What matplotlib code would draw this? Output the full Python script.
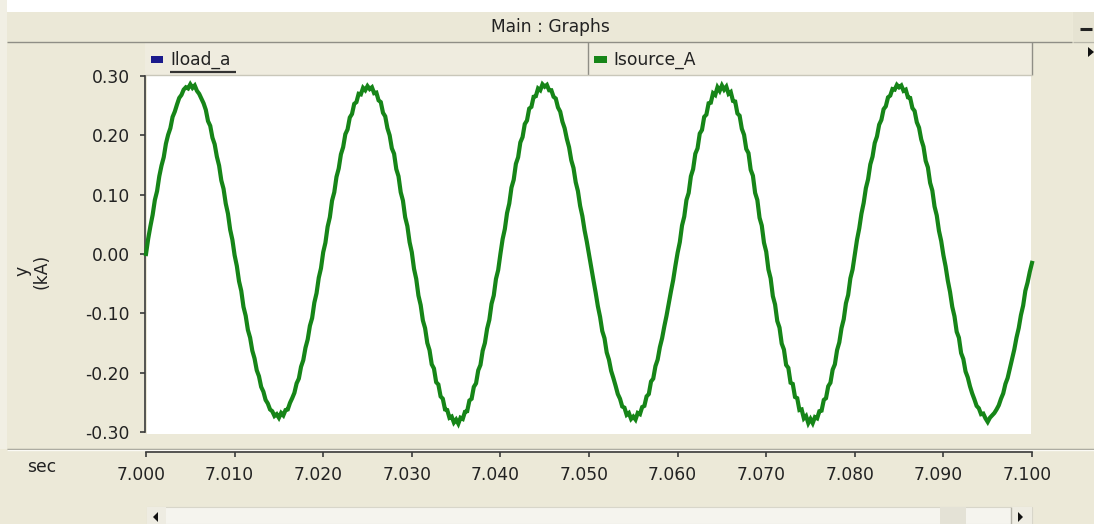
import numpy as np
import matplotlib
matplotlib.use("Agg")
import matplotlib.pyplot as plt
from matplotlib.patches import Rectangle, Polygon
import matplotlib.transforms as mtransforms

# ---------------------------------------------------------------------------
# Data: Isource_A (kA), sampled every 0.25 ms, one list per 20 ms cycle
# ---------------------------------------------------------------------------
cycle_1 = [
    0.000, 0.026, 0.047, 0.066, 0.091, 0.106, 0.131, 0.149, 0.163, 0.186,
    0.201, 0.212, 0.231, 0.240, 0.252, 0.263, 0.268, 0.277, 0.281, 0.279,
    0.286, 0.280, 0.284, 0.275, 0.270, 0.262, 0.254, 0.243, 0.224, 0.216,
    0.196, 0.185, 0.164, 0.149, 0.124, 0.110, 0.085, 0.068, 0.041, 0.024,
    -0.002, -0.020, -0.046, -0.062, -0.089, -0.104, -0.128, -0.141, -0.163, -0.176,
    -0.196, -0.206, -0.224, -0.232, -0.246, -0.252, -0.262, -0.265, -0.273, -0.270,
    -0.276, -0.268, -0.272, -0.263, -0.262, -0.251, -0.243, -0.234, -0.218, -0.210,
    -0.190, -0.179, -0.158, -0.144, -0.121, -0.108, -0.082, -0.066, -0.040, -0.024,
]
cycle_2 = [
    0.003, 0.019, 0.046, 0.062, 0.090, 0.104, 0.130, 0.144, 0.168, 0.180,
    0.202, 0.210, 0.230, 0.236, 0.253, 0.256, 0.270, 0.269, 0.280, 0.276,
    0.283, 0.278, 0.281, 0.271, 0.272, 0.259, 0.256, 0.238, 0.232, 0.212,
    0.200, 0.178, 0.169, 0.143, 0.131, 0.104, 0.090, 0.062, 0.047, 0.020,
    0.003, -0.025, -0.042, -0.070, -0.086, -0.112, -0.125, -0.150, -0.162, -0.186,
    -0.193, -0.216, -0.220, -0.240, -0.244, -0.262, -0.263, -0.276, -0.274, -0.284,
    -0.279, -0.286, -0.276, -0.278, -0.266, -0.265, -0.247, -0.244, -0.224, -0.218,
    -0.196, -0.187, -0.163, -0.150, -0.126, -0.111, -0.084, -0.070, -0.042, -0.027,
]
cycle_3 = [
    0.000, 0.025, 0.042, 0.069, 0.085, 0.112, 0.125, 0.152, 0.163, 0.188,
    0.197, 0.219, 0.225, 0.245, 0.248, 0.265, 0.266, 0.279, 0.276, 0.286,
    0.282, 0.285, 0.276, 0.276, 0.265, 0.262, 0.247, 0.240, 0.223, 0.212,
    0.194, 0.180, 0.158, 0.145, 0.121, 0.106, 0.081, 0.064, 0.040, 0.021,
    -0.001, -0.022, -0.044, -0.065, -0.088, -0.106, -0.130, -0.142, -0.166, -0.178,
    -0.197, -0.209, -0.222, -0.236, -0.244, -0.257, -0.259, -0.271, -0.268, -0.278,
    -0.274, -0.279, -0.268, -0.270, -0.258, -0.256, -0.240, -0.236, -0.215, -0.210,
    -0.189, -0.178, -0.157, -0.142, -0.122, -0.104, -0.083, -0.063, -0.044, -0.020,
]
cycle_4 = [
    0.002, 0.020, 0.048, 0.063, 0.091, 0.103, 0.131, 0.143, 0.169, 0.178,
    0.203, 0.209, 0.231, 0.235, 0.254, 0.255, 0.271, 0.268, 0.281, 0.275,
    0.284, 0.277, 0.282, 0.270, 0.273, 0.258, 0.257, 0.237, 0.233, 0.211,
    0.201, 0.177, 0.170, 0.142, 0.132, 0.103, 0.091, 0.061, 0.048, 0.019,
    0.004, -0.026, -0.041, -0.071, -0.085, -0.113, -0.124, -0.151, -0.161, -0.187,
    -0.192, -0.217, -0.219, -0.241, -0.243, -0.263, -0.262, -0.277, -0.273, -0.285,
    -0.278, -0.285, -0.275, -0.277, -0.265, -0.264, -0.246, -0.243, -0.223, -0.217,
    -0.195, -0.186, -0.162, -0.149, -0.125, -0.110, -0.083, -0.069, -0.041, -0.026,
]
cycle_5 = [
    -0.001, 0.024, 0.043, 0.068, 0.086, 0.111, 0.126, 0.151, 0.164, 0.187,
    0.198, 0.218, 0.226, 0.244, 0.249, 0.264, 0.267, 0.278, 0.277, 0.285,
    0.281, 0.284, 0.275, 0.277, 0.264, 0.263, 0.246, 0.241, 0.222, 0.213,
    0.193, 0.181, 0.157, 0.146, 0.120, 0.107, 0.080, 0.065, 0.039, 0.022,
    -0.002, -0.021, -0.045, -0.064, -0.089, -0.105, -0.131, -0.141, -0.167, -0.177,
    -0.198, -0.208, -0.223, -0.235, -0.245, -0.256, -0.260, -0.270, -0.269, -0.277,
    -0.283, -0.276, -0.272, -0.268, -0.262, -0.255, -0.244, -0.235, -0.219, -0.209,
    -0.193, -0.177, -0.161, -0.141, -0.125, -0.103, -0.087, -0.062, -0.048, -0.030,
    -0.015,
]

t_start = 7.000          # sec
t_step = 0.00025         # sec between samples

x_ticks = [7.000, 7.010, 7.020, 7.030, 7.040, 7.050, 7.060, 7.070, 7.080, 7.090, 7.100]
x_tick_labels = ["7.000", "7.010", "7.020", "7.030", "7.040", "7.050",
                 "7.060", "7.070", "7.080", "7.090", "7.100"]
y_ticks = [0.30, 0.20, 0.10, 0.00, -0.10, -0.20, -0.30]
y_tick_labels = ["0.30", "0.20", "0.10", "0.00", "-0.10", "-0.20", "-0.30"]

series_names = ["Iload_a", "Isource_A"]
series_colors = ["#1a1a8c", "#168518"]

panel_title = "Main : Graphs"
x_unit = "sec"
y_label = "y\n(kA)"

isource = np.array(cycle_1 + cycle_2 + cycle_3 + cycle_4 + cycle_5)
t = t_start + t_step * np.arange(len(isource))

# ---------------------------------------------------------------------------
# Figure and window chrome (pixel coordinates, y downwards)
# ---------------------------------------------------------------------------
W, H = 1094, 524
FONT = "DejaVu Sans"
FS = 12.3
BEIGE = "#ECE9D8"

fig = plt.figure(figsize=(W / 100, H / 100), dpi=100)
fig.patch.set_facecolor(BEIGE)

bg = fig.add_axes([0, 0, 1, 1], zorder=0)
bg.set_xlim(0, W)
bg.set_ylim(H, 0)
bg.axis("off")


def rect(x0, y0, x1, y1, fc, ec="none", lw=0.0, z=1):
    bg.add_patch(Rectangle((x0, y0), x1 - x0, y1 - y0, facecolor=fc,
                           edgecolor=ec, linewidth=lw, zorder=z))


def hline(y, x0, x1, color, lw=1.0, z=3):
    bg.plot([x0, x1], [y, y], color=color, lw=lw, zorder=z, solid_capstyle="butt")


def vline(x, y0, y1, color, lw=1.0, z=3):
    bg.plot([x, x], [y0, y1], color=color, lw=lw, zorder=z, solid_capstyle="butt")


# white strip above the panel
rect(0, 0, W, 12, "white")
rect(0, 0, 7, 449, "#F1EFE4")

# title bar
rect(7, 12, 1072, 41, "#EBE8D7")
hline(41.5, 7, 1072, "#8f8e86", 1.0)
bg.text(550, 27, panel_title, ha="center", va="center",
        fontsize=FS, family=FONT, color="#222222", zorder=5)

# minimise button on the right
rect(1073, 12, W, 41, "#E6E3D2")
hline(41.5, 1073, W, "#b8b6aa", 1.0)
hline(29, 1080, 1092, "#222222", 2.2)

# legend bar
rect(145, 42, 1032, 75, "#EFECDF")
vline(588, 42, 75, "#8f8e86", 1.0)
vline(1031.5, 42, 75, "#8f8e86", 1.0)
hline(75, 145, 1032, "#c9c7ba", 1.0)

rect(151, 56, 163, 63, series_colors[0], z=4)
bg.text(170, 60, series_names[0], ha="left", va="center",
        fontsize=FS, family=FONT, color="#222222", zorder=5)
hline(72, 170, 236, "#333333", 1.6, z=5)

rect(594, 56, 607, 63, series_colors[1], z=4)
bg.text(613, 60, series_names[1], ha="left", va="center",
        fontsize=FS, family=FONT, color="#222222", zorder=5)

# small arrow at the right edge of the legend row
bg.add_patch(Polygon([[1088, 47], [1088, 57], [1094, 52]], closed=True,
                     facecolor="#111111", edgecolor="none", zorder=5))

# white plotting area
rect(147, 75, 1031, 434, "white", z=1)

# separator above the time axis
hline(448.5, 7, W, "#9a998f", 1.0)
hline(449.5, 7, W, "#fbfaf5", 1.0)

# axis captions
bg.text(42, 467, x_unit, ha="center", va="center",
        fontsize=FS, family=FONT, color="#222222", zorder=5)
bg.text(32, 271, y_label, ha="center", va="center", rotation=90,
        multialignment="center", linespacing=1.05,
        fontsize=FS, family=FONT, color="#222222", zorder=5)

# horizontal scroll bar
rect(147, 507, 1032, H, "#F5F4EE", ec="#d8d6ca", lw=0.8)
rect(147, 507, 166, H, "#EEECE2")
rect(940, 507, 966, H, "#E4E2D6")
rect(1011, 507, 1032, H, "#EEECE2")
vline(1010.5, 507, H, "#b5b3a8", 1.0)
bg.add_patch(Polygon([[158, 512], [158, 522], [153, 517]], closed=True,
                     facecolor="#111111", edgecolor="none", zorder=5))
bg.add_patch(Polygon([[1018, 512], [1018, 522], [1023, 517]], closed=True,
                     facecolor="#111111", edgecolor="none", zorder=5))

# ---------------------------------------------------------------------------
# Data axes
# ---------------------------------------------------------------------------
X0, X1 = 146, 1032       # pixel columns of 7.000 and 7.100
Y0, Y1 = 76, 432         # pixel rows of 0.30 and -0.30
ax = fig.add_axes([X0 / W, (H - Y1) / H, (X1 - X0) / W, (Y1 - Y0) / H], zorder=2)
ax.set_facecolor("none")

ax.plot(t, isource, color=series_colors[1], lw=3.0, solid_joinstyle="miter",
        clip_on=False, zorder=3)

ax.set_xlim(7.000, 7.100)
ax.set_ylim(-0.30, 0.30)

for side in ("top", "right"):
    ax.spines[side].set_visible(False)
axis_color = "#3a3a3a"
ax.spines["left"].set_position(("outward", 0.8))
ax.spines["bottom"].set_position(("outward", 14.4))
for side in ("left", "bottom"):
    ax.spines[side].set_color(axis_color)
    ax.spines[side].set_linewidth(1.2)

ax.set_xticks(x_ticks)
ax.set_xticklabels(x_tick_labels, fontsize=FS, family=FONT, color="#222222")
ax.set_yticks(y_ticks)
ax.set_yticklabels(y_tick_labels, fontsize=FS, family=FONT, color="#222222")
ax.tick_params(axis="both", direction="out", length=3.8, width=1.2, color=axis_color)
ax.tick_params(axis="y", pad=7.0)
ax.tick_params(axis="x", pad=6.0)

shift = mtransforms.ScaledTranslation(-5 / 100, 0, fig.dpi_scale_trans)
for lbl in ax.get_xticklabels():
    lbl.set_transform(lbl.get_transform() + shift)

fig.savefig("out.png", dpi=100, facecolor=fig.get_facecolor())
